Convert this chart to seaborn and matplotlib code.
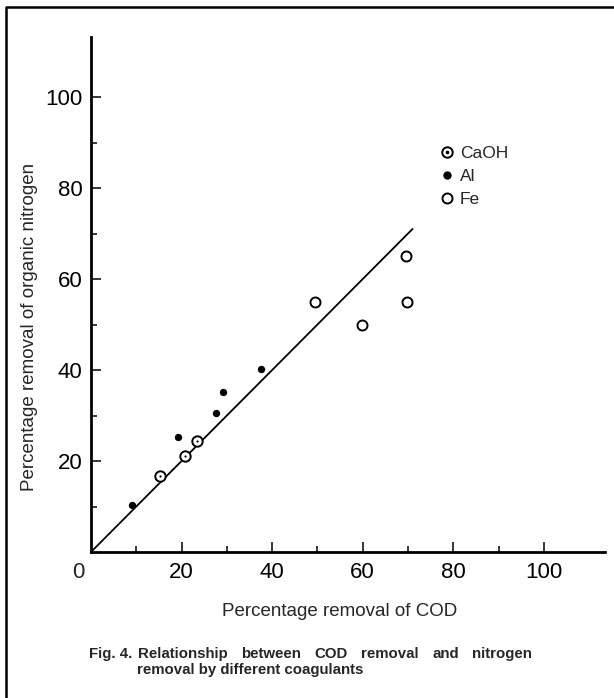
"""
Fig. 4 - COD removal vs organic nitrogen removal for three coagulants
"""

import matplotlib
matplotlib.use("Agg")
import matplotlib.pyplot as plt
from matplotlib.lines import Line2D
import seaborn as sns
import pandas as pd

# data (% removal)
caoh_cod = [15.2, 20.8, 23.5]
caoh_n = [16.7, 21.2, 24.5]

al_cod = [9.1, 19.3, 27.5, 29.2, 37.5]
al_n = [10.3, 25.2, 30.6, 35.2, 40.2]

fe_cod = [49.4, 59.8, 69.5, 69.7]
fe_n = [54.9, 49.9, 65.1, 54.9]

fit_cod = [0, 71]
fit_n = [0, 71]

tick_vals = [20, 40, 60, 80, 100]
tick_labels = ["20", "40", "60", "80", "100"]

caption_head = "Fig. 4."
caption_words = ["Relationship", "between", "COD", "removal", "and", "nitrogen"]
caption_2 = "removal by different coagulants"

sns.set_style("ticks")
plt.rcParams['font.family'] = ['Liberation Sans', 'DejaVu Sans']

W, H = 614, 698
fig = plt.figure(figsize=(W / 100, H / 100), dpi=100)
fig.patch.set_facecolor("white")

# axes placed in pixel terms: origin at (91, 552), top at 37, right at 605
ax = fig.add_axes([91 / W, 1 - 552 / H, (605 - 91) / W, (552 - 37) / H])
ax.set_facecolor("white")

caoh = pd.DataFrame({"cod": caoh_cod, "n": caoh_n})
al = pd.DataFrame({"cod": al_cod, "n": al_n})
fe = pd.DataFrame({"cod": fe_cod, "n": fe_n})
fit = pd.DataFrame({"cod": fit_cod, "n": fit_n})

sns.lineplot(data=fit, x="cod", y="n", ax=ax, color="black", linewidth=1.3, zorder=2)

sns.scatterplot(data=fe, x="cod", y="n", ax=ax, marker="o", s=52,
                facecolor="white", edgecolor="black", linewidth=1.4, zorder=3)
sns.scatterplot(data=caoh, x="cod", y="n", ax=ax, marker="o", s=56,
                facecolor="white", edgecolor="black", linewidth=1.4, zorder=3)
sns.scatterplot(data=caoh, x="cod", y="n", ax=ax, marker="o", s=2.5,
                color="black", linewidth=0, zorder=4)
sns.scatterplot(data=al, x="cod", y="n", ax=ax, marker="o", s=28,
                color="black", linewidth=0, zorder=3)

ax.set_xlim(0, 113.5)
ax.set_ylim(0, 113.2)

for side in ["top", "right"]:
    ax.spines[side].set_visible(False)
for side in ["left", "bottom"]:
    ax.spines[side].set_linewidth(2.0)
    ax.spines[side].set_color("black")

ax.set_xticks(tick_vals)
ax.set_xticklabels(tick_labels)
ax.set_yticks(tick_vals)
ax.set_yticklabels(tick_labels)
ax.set_xticks(range(10, 101, 20), minor=True)
ax.set_yticks(range(10, 101, 20), minor=True)
ax.tick_params(which="major", direction="in", length=7.5, width=1.1,
               labelsize=16, color="black", labelcolor="black")
ax.tick_params(which="minor", direction="in", length=4, width=1.1, color="black")
ax.tick_params(axis="x", pad=7)
ax.tick_params(axis="y", pad=6)

# shared origin label
ax.annotate("0", xy=(0, 0), xytext=(-9, -7), textcoords="offset points",
            ha="center", va="top", fontsize=16)

ax.set_xlabel("")
ax.set_ylabel("")
fig.text(340 / W, 1 - 612 / H, "Percentage removal of COD", ha="center", va="center",
         fontsize=13.5)
fig.text(30 / W, 1 - 327 / H, "Percentage removal of organic nitrogen", ha="center",
         va="center", rotation=90, fontsize=13.5)

# legend
handles = [
    (Line2D([], [], linestyle="none", marker="o", markersize=7.5, markerfacecolor="white",
            markeredgecolor="black", markeredgewidth=1.4),
     Line2D([], [], linestyle="none", marker="o", markersize=1.6, color="black")),
    Line2D([], [], linestyle="none", marker="o", markersize=5, color="black"),
    Line2D([], [], linestyle="none", marker="o", markersize=7.2, markerfacecolor="white",
           markeredgecolor="black", markeredgewidth=1.4),
]
ax.legend(handles, ["CaOH", "Al", "Fe"], loc="upper left",
          bbox_to_anchor=(440 / W, 1 - 146 / H), bbox_transform=fig.transFigure,
          frameon=False, fontsize=12.5, handlelength=0.8, handletextpad=0.35,
          labelspacing=0.45, borderpad=0, borderaxespad=0)

# caption: first line justified between x=138 and x=532 px
cap_kw = dict(va="center", fontsize=10.8, fontweight="bold")
fig.text(89 / W, 1 - 654 / H, caption_head, ha="left", **cap_kw)
renderer = fig.canvas.get_renderer()
word_texts = [fig.text(0, 1 - 654 / H, w, ha="left", **cap_kw) for w in caption_words]
widths = [t.get_window_extent(renderer).width for t in word_texts]
x0, x1 = 138, 532
gap = (x1 - x0 - sum(widths)) / (len(widths) - 1)
xp = x0
for t, w in zip(word_texts, widths):
    t.set_x(xp / W)
    xp += w + gap
fig.text(137 / W, 1 - 670 / H, caption_2, ha="left", **cap_kw)

# page frame (left and top edges)
fig.add_artist(Line2D([6 / W, 6 / W, 1.0], [0.0, 1 - 7 / H, 1 - 7 / H],
                      transform=fig.transFigure, color="black", linewidth=1.8))

plt.savefig("out.png", dpi=100, facecolor="white")
plt.close()
